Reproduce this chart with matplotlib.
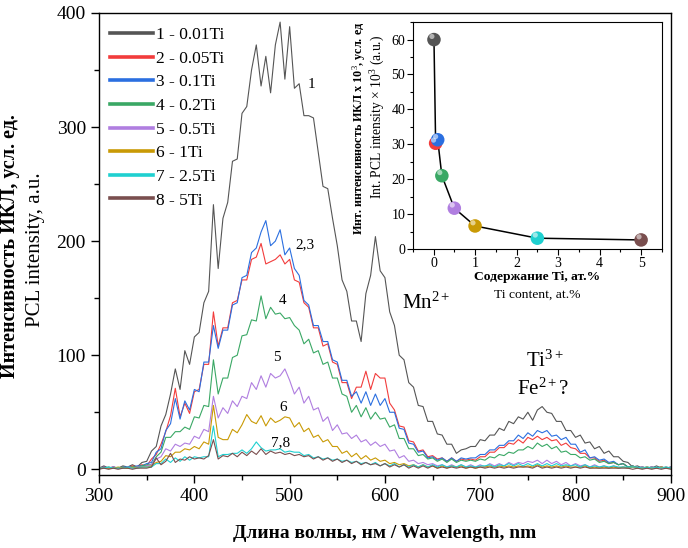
import matplotlib
matplotlib.use("Agg")
import matplotlib.pyplot as plt
import numpy as np
from matplotlib.ticker import MultipleLocator

plt.rcParams["font.family"] = ["Liberation Serif", "DejaVu Serif"]
plt.rcParams["mathtext.fontset"] = "custom"
plt.rcParams["mathtext.rm"] = "Liberation Serif"
plt.rcParams["mathtext.it"] = "Liberation Serif:italic"
plt.rcParams["mathtext.bf"] = "Liberation Serif:bold"

# wavelength grid, nm (5 nm step, 300..900)
wavelength = np.arange(300, 905, 5)

# PCL spectra, one value per 5 nm
s1 = [1, 3, 1, 2, 1, 3, 2, 4, 2, 6,
      7, 16, 20, 38, 48, 66, 88, 70, 104, 92,
      116, 120, 146, 156, 232, 176, 220, 234, 270, 272,
      312, 318, 350, 372, 336, 362, 330, 372, 392, 342,
      388, 334, 338, 310, 310, 308, 278, 248, 246, 220,
      196, 166, 156, 130, 130, 112, 154, 170, 204, 174,
      168, 138, 126, 100, 96, 76, 72, 56, 55, 42,
      42, 31, 30, 22, 22, 14, 17, 18, 20, 20,
      26, 25, 30, 30, 36, 34, 42, 40, 46, 44,
      50, 43, 52, 55, 50, 49, 42, 42, 34, 34,
      28, 30, 23, 24, 18, 20, 14, 16, 11, 11,
      7, 6, 2, 3, 1, 2, 1, 3, 1, 2,
      1]
s2 = [1, 2, 1, 2, 1, 2, 1, 3, 2, 4,
      3, 9, 13, 22, 33, 47, 71, 46, 58, 49,
      68, 70, 92, 92, 138, 108, 124, 124, 146, 148,
      166, 166, 184, 186, 198, 180, 182, 184, 188, 180,
      184, 166, 164, 146, 142, 124, 124, 108, 110, 94,
      92, 76, 76, 62, 72, 72, 86, 70, 84, 80,
      80, 58, 52, 38, 37, 25, 24, 16, 17, 11,
      12, 9, 10, 7, 10, 7, 9, 8, 9, 8,
      11, 11, 15, 15, 19, 19, 23, 22, 26, 23,
      28, 26, 29, 26, 28, 25, 26, 21, 23, 19,
      18, 14, 14, 10, 10, 7, 8, 5, 6, 4,
      5, 2, 3, 1, 2, 1, 2, 1, 2, 1,
      2]
s3 = [1, 2, 1, 2, 1, 2, 2, 2, 3, 3,
      5, 6, 15, 18, 34, 40, 62, 44, 60, 52,
      70, 68, 94, 94, 126, 106, 122, 122, 144, 146,
      168, 170, 190, 194, 208, 218, 196, 200, 210, 188,
      194, 176, 170, 148, 144, 126, 126, 112, 112, 96,
      94, 78, 78, 64, 68, 58, 68, 56, 66, 56,
      62, 50, 50, 36, 35, 23, 22, 15, 16, 10,
      11, 8, 10, 7, 10, 7, 10, 9, 10, 10,
      13, 13, 17, 17, 21, 21, 25, 25, 30, 27,
      32, 29, 34, 32, 34, 29, 30, 26, 28, 22,
      22, 15, 17, 10, 11, 8, 9, 6, 7, 4,
      5, 2, 3, 1, 2, 1, 2, 1, 2, 1,
      2]
s4 = [1, 1, 2, 1, 1, 2, 1, 2, 2, 3,
      4, 4, 11, 15, 28, 28, 33, 33, 37, 35,
      46, 45, 56, 55, 96, 66, 80, 80, 98, 100,
      117, 118, 131, 130, 152, 132, 142, 136, 137, 132,
      133, 126, 122, 110, 114, 102, 104, 92, 94, 80,
      80, 66, 64, 50, 56, 46, 54, 44, 50, 44,
      45, 37, 39, 27, 27, 18, 18, 12, 13, 9,
      10, 7, 9, 6, 9, 6, 8, 7, 8, 7,
      9, 8, 11, 10, 13, 12, 15, 14, 17, 17,
      20, 18, 23, 20, 22, 18, 20, 15, 16, 13,
      13, 10, 11, 8, 9, 6, 7, 5, 6, 4,
      5, 2, 3, 1, 2, 1, 2, 1, 2, 1,
      1]
s5 = [1, 1, 1, 2, 1, 1, 2, 1, 2, 2,
      3, 4, 9, 11, 18, 16, 22, 20, 23, 22,
      29, 27, 35, 33, 64, 45, 54, 49, 60, 55,
      64, 62, 76, 70, 82, 72, 84, 80, 82, 88,
      78, 66, 72, 58, 64, 52, 54, 42, 46, 34,
      39, 31, 32, 27, 30, 24, 26, 21, 24, 20,
      22, 16, 17, 10, 12, 7, 8, 5, 6, 4,
      5, 3, 4, 2, 4, 2, 4, 2, 4, 2,
      4, 2, 5, 3, 5, 3, 6, 4, 6, 5,
      7, 6, 8, 5, 8, 5, 7, 4, 6, 3,
      5, 3, 4, 2, 4, 2, 3, 1, 3, 1,
      2, 1, 2, 1, 2, 1, 2, 1, 2, 1,
      1]
s6 = [1, 1, 1, 1, 2, 1, 1, 2, 1, 2,
      2, 3, 6, 7, 12, 11, 15, 15, 18, 17,
      20, 18, 24, 22, 56, 28, 26, 26, 35, 32,
      39, 48, 42, 40, 47, 38, 45, 41, 43, 46,
      45, 37, 41, 33, 36, 28, 30, 24, 26, 20,
      20, 14, 16, 11, 14, 9, 12, 8, 10, 7,
      8, 5, 6, 4, 5, 3, 4, 2, 4, 2,
      3, 1, 3, 1, 3, 2, 3, 1, 2, 1,
      2, 2, 3, 2, 3, 2, 3, 2, 3, 2,
      3, 2, 4, 2, 3, 2, 3, 2, 3, 2,
      2, 2, 3, 1, 2, 1, 2, 1, 2, 1,
      2, 1, 2, 1, 1, 2, 1, 1, 2, 1,
      1]
s7 = [1, 1, 2, 1, 1, 1, 2, 1, 1, 2,
      2, 2, 5, 5, 9, 6, 10, 7, 11, 8,
      11, 10, 11, 11, 38, 11, 13, 13, 14, 14,
      17, 14, 18, 24, 19, 16, 17, 17, 18, 15,
      16, 15, 15, 12, 13, 10, 11, 9, 10, 8,
      9, 7, 8, 6, 7, 5, 6, 4, 6, 3,
      5, 3, 5, 2, 4, 2, 4, 2, 4, 2,
      4, 2, 4, 2, 3, 2, 4, 2, 3, 2,
      3, 3, 4, 2, 4, 3, 5, 3, 5, 3,
      5, 3, 5, 3, 5, 3, 5, 3, 4, 3,
      4, 2, 4, 2, 3, 2, 3, 2, 3, 2,
      2, 2, 2, 2, 1, 2, 1, 2, 1, 2,
      1]
s8 = [0, 1, 0, 1, 0, 1, 1, 0, 1, 1,
      1, 2, 10, 4, 7, 14, 6, 9, 8, 11,
      9, 10, 9, 12, 26, 9, 12, 11, 14, 11,
      15, 12, 16, 13, 18, 13, 16, 14, 15, 13,
      14, 12, 13, 11, 12, 9, 11, 8, 10, 7,
      9, 6, 8, 5, 7, 4, 6, 4, 5, 3,
      5, 2, 4, 2, 4, 1, 3, 1, 3, 1,
      3, 1, 2, 1, 2, 1, 2, 1, 2, 1,
      2, 1, 2, 1, 2, 1, 2, 1, 2, 2,
      2, 1, 3, 1, 2, 1, 2, 1, 2, 1,
      2, 1, 2, 1, 1, 1, 1, 1, 1, 1,
      1, 1, 0, 1, 0, 1, 0, 1, 0, 1,
      0]

spectra = [s1, s2, s3, s4, s5, s6, s7, s8]
labels = ["1 - 0.01Ti", "2 - 0.05Ti", "3 - 0.1Ti", "4 - 0.2Ti",
          "5 - 0.5Ti", "6 - 1Ti", "7 - 2.5Ti", "8 - 5Ti"]
colors = ["#555555", "#f23c3c", "#2b6fe0", "#3aa865",
          "#b07ee0", "#c99a05", "#1fd0d0", "#7a4f4f"]

# inset: integral intensity vs Ti content
ti_content = [0.01, 0.05, 0.1, 0.2, 0.5, 1, 2.5, 5]
int_intensity = [60, 30.3, 31.3, 21, 11.7, 6.6, 3.1, 2.6]

fig = plt.figure(figsize=(6.88, 5.48), dpi=100)
ax = fig.add_axes([0.144, 0.1332, 0.831, 0.8431])

for y, lab, c in zip(spectra, labels, colors):
    ax.plot(wavelength, y, color=c, lw=0.8, label=lab)

ax.set_xlim(300, 900)
ax.set_ylim(-5, 400)
ax.set_xticks(np.arange(300, 901, 100))
ax.set_yticks(np.arange(0, 401, 100))
ax.xaxis.set_minor_locator(MultipleLocator(50))
ax.yaxis.set_minor_locator(MultipleLocator(50))
ax.tick_params(which="major", direction="out", length=6, width=1, labelsize=14)
ax.tick_params(which="minor", direction="out", length=3.5, width=1)
for sp in ax.spines.values():
    sp.set_linewidth(1)

ax.set_xlabel("Длина волны, нм / Wavelength, nm", fontsize=14,
              fontweight="bold", labelpad=14)
ax.text(-0.156, 0.496, "Интенсивность ИКЛ, усл. ед.", transform=ax.transAxes,
        rotation=90, rotation_mode="anchor", ha="center", va="center",
        fontsize=14.5, fontweight="bold")
ax.text(-0.112, 0.487, "PCL intensity, a.u.", transform=ax.transAxes,
        rotation=90, rotation_mode="anchor", ha="center", va="center",
        fontsize=15)

leg = ax.legend(loc="upper left", bbox_to_anchor=(0.013, 0.977),
                frameon=False, fontsize=12.5, handlelength=2.47,
                handletextpad=0.2, labelspacing=0.43, borderaxespad=0,
                borderpad=0.2)
for h in leg.get_lines():
    h.set_linewidth(2.6)

# curve numbers and ion labels
ax.text(523, 337, "1", fontsize=11, ha="center", va="center")
ax.text(516, 197, "2,3", fontsize=11, ha="center", va="center")
ax.text(493, 148, "4", fontsize=11, ha="center", va="center")
ax.text(487, 98, "5", fontsize=11, ha="center", va="center")
ax.text(493, 54, "6", fontsize=11, ha="center", va="center")
ax.text(490, 23, "7,8", fontsize=11, ha="center", va="center")
ax.text(618, 146, r"Mn$^{2+}$", fontsize=15, ha="left", va="center")
ax.text(768, 95, r"Ti$^{3+}$", fontsize=15, ha="center", va="center")
ax.text(766, 70, r"Fe$^{2+}$?", fontsize=15, ha="center", va="center")

# inset
ins = fig.add_axes([0.600, 0.5456, 0.362, 0.414])
ins.plot(ti_content, int_intensity, color="black", lw=1.1, zorder=1)
ins.scatter(ti_content, int_intensity, s=95, c=colors, edgecolors="none",
            zorder=2)
ins.scatter(np.array(ti_content) - 0.05, np.array(int_intensity) + 0.9,
            s=14, c="white", alpha=0.55, edgecolors="none", zorder=3)
ins.set_xlim(-0.5, 5.5)
ins.set_ylim(0, 65)
ins.set_xticks(range(0, 6))
ins.set_yticks(range(0, 61, 10))
ins.xaxis.set_minor_locator(MultipleLocator(0.5))
ins.yaxis.set_minor_locator(MultipleLocator(5))
ins.tick_params(which="major", direction="out", length=4, width=0.8,
                labelsize=10, pad=1.5)
ins.tick_params(which="minor", direction="out", length=2, width=0.8)
for sp in ins.spines.values():
    sp.set_linewidth(0.8)

ins.text(0.5, -0.123, "Содержание Ti, ат.%", transform=ins.transAxes,
         ha="center", va="center", fontsize=9.7, fontweight="bold")
ins.text(0.5, -0.203, "Ti content, at.%", transform=ins.transAxes,
         ha="center", va="center", fontsize=9.7)
ins.text(-0.215, 0.53, r"Инт. интенсивность ИКЛ x 10$^3$, усл. ед",
         transform=ins.transAxes, rotation=90, ha="center", va="center",
         fontsize=8.7, fontweight="bold")
ins.text(-0.14, 0.58, r"Int. PCL intensity $\times$ 10$^3$ (a.u.)",
         transform=ins.transAxes, rotation=90, ha="center", va="center",
         fontsize=9.8)

fig.savefig("out.png", dpi=100)
